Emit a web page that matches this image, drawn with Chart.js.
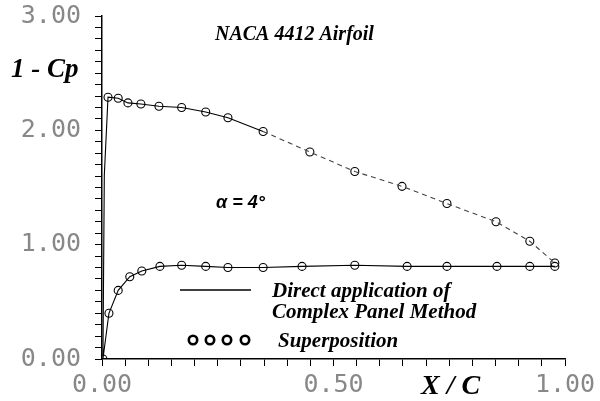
<!DOCTYPE html>
<html>
<head>
<meta charset="utf-8">
<script src="https://cdn.jsdelivr.net/npm/chart.js@4"></script>
<style>
  html, body { margin: 0; padding: 0; background: #fff; }
  #wrap { width: 600px; height: 401px; }
</style>
</head>
<body>
<div id="wrap"><canvas id="cpChart"></canvas></div>
<script>
// upper surface (leading edge -> trailing edge)
const xcUpper = [0.000, 0.005, 0.013, 0.035, 0.056, 0.084, 0.123, 0.172, 0.224, 0.272, 0.348, 0.449, 0.546, 0.648, 0.745, 0.851, 0.924, 0.978];
const cpUpper = [0.00, 1.61, 2.29, 2.28, 2.24, 2.23, 2.21, 2.20, 2.16, 2.11, 1.99, 1.81, 1.64, 1.51, 1.36, 1.20, 1.03, 0.84];
// lower surface (leading edge -> trailing edge)
const xcLower = [0.002, 0.015, 0.035, 0.060, 0.086, 0.125, 0.172, 0.224, 0.272, 0.348, 0.432, 0.546, 0.659, 0.745, 0.853, 0.924, 0.978];
const cpLower = [0.00, 0.40, 0.60, 0.72, 0.77, 0.81, 0.82, 0.81, 0.80, 0.80, 0.81, 0.82, 0.81, 0.81, 0.81, 0.81, 0.81];
// superposition markers (index where the circles start on each surface)
const circleUpperFrom = 2;
const circleLowerFrom = 0;

const xTickLabels = { 0: '0.00', 0.5: '0.50', 1: '1.00' };
const yTickLabels = { 0: '0.00', 1: '1.00', 2: '2.00', 3: '3.00' };

// line goes around the airfoil: lower TE -> LE -> upper TE
const lineData = [];
for (let i = xcLower.length - 1; i >= 0; i--) lineData.push({ x: xcLower[i], y: cpLower[i] });
for (let i = 0; i < xcUpper.length; i++) lineData.push({ x: xcUpper[i], y: cpUpper[i] });
const nLower = xcLower.length;

const circleData = [];
for (let i = circleUpperFrom; i < xcUpper.length; i++) circleData.push({ x: xcUpper[i], y: cpUpper[i] });
for (let i = circleLowerFrom; i < xcLower.length; i++) circleData.push({ x: xcLower[i], y: cpLower[i] });

function pickLabel(table, v) {
    for (const k in table) {
        if (Math.abs(v - parseFloat(k)) < 1e-6) return table[k];
    }
    return '';
}

const textPlugin = {
    id: 'texts',
    afterDraw(chart) {
        const ctx = chart.ctx;
        ctx.save();
        ctx.fillStyle = '#000';
        ctx.textBaseline = 'alphabetic';
        ctx.textAlign = 'left';

        ctx.font = 'italic bold 20px "Liberation Serif"';
        ctx.fillText('NACA 4412 Airfoil', 215, 40);

        ctx.font = 'italic bold 27px "Liberation Serif"';
        ctx.fillText('1 - Cp', 11, 77);

        ctx.font = 'italic bold 18px "Liberation Sans"';
        ctx.fillText('\u03B1 = 4\u00B0', 216, 208);

        ctx.font = 'italic bold 21px "Liberation Serif"';
        ctx.fillText('Direct application of', 272, 297);
        ctx.fillText('Complex Panel Method', 272, 318);
        ctx.fillText('Superposition', 278, 347);

        ctx.font = 'italic bold 28px "Liberation Serif"';
        ctx.fillText('X / C', 421, 394);

        // legend samples
        ctx.strokeStyle = '#000';
        ctx.lineWidth = 1.3;
        ctx.beginPath();
        ctx.moveTo(180, 290);
        ctx.lineTo(251, 290);
        ctx.stroke();
        ctx.lineWidth = 2.6;
        [193, 210, 227, 245].forEach(function(cx) {
            ctx.beginPath();
            ctx.arc(cx, 340, 4.2, 0, Math.PI * 2);
            ctx.stroke();
        });
        ctx.restore();
    }
};

const ctx = document.getElementById('cpChart').getContext('2d');
new Chart(ctx, {
    type: 'scatter',
    data: {
        datasets: [
            {
                label: 'Direct application of Complex Panel Method',
                data: lineData,
                showLine: true,
                borderColor: '#000',
                borderWidth: 1.1,
                pointRadius: 0,
                segment: {
                    borderDash: c => (c.p0DataIndex >= nLower && c.p0.parsed.x > 0.3) ? [5, 4] : undefined,
                    borderColor: c => (c.p0DataIndex >= nLower && c.p0.parsed.x > 0.3) ? '#444' : undefined
                }
            },
            {
                label: 'Superposition',
                data: circleData,
                showLine: false,
                pointRadius: 4,
                pointBorderWidth: 1.1,
                pointBorderColor: '#000',
                pointBackgroundColor: 'rgba(0,0,0,0)'
            }
        ]
    },
    plugins: [textPlugin],
    options: {
        responsive: true,
        maintainAspectRatio: false,
        animation: false,
        layout: { padding: { left: 0, right: 35, top: 16, bottom: 0 } },
        plugins: {
            legend: { display: false },
            tooltip: { enabled: false }
        },
        scales: {
            x: {
                type: 'linear',
                min: 0,
                max: 1,
                afterFit: s => { s.height = 42; s.paddingLeft = 0; s.paddingRight = 0; },
                ticks: {
                    stepSize: 0.05,
                    autoSkip: false,
                    maxRotation: 0,
                    padding: 4,
                    color: '#888',
                    font: { family: 'DejaVu Sans Mono', size: 25 },
                    callback: v => pickLabel(xTickLabels, v)
                },
                grid: { drawOnChartArea: false, drawTicks: true, tickLength: 7, color: '#000', lineWidth: 1 },
                border: { color: '#000', width: 1.5 }
            },
            y: {
                min: 0,
                max: 3,
                afterFit: s => { s.width = 102; s.paddingTop = 0; s.paddingBottom = 0; },
                ticks: {
                    stepSize: 0.1,
                    autoSkip: false,
                    padding: 14,
                    color: '#888',
                    font: { family: 'DejaVu Sans Mono', size: 25 },
                    callback: v => pickLabel(yTickLabels, v)
                },
                grid: { drawOnChartArea: false, drawTicks: true, tickLength: 7, color: '#000', lineWidth: 1 },
                border: { color: '#000', width: 1.5 }
            }
        }
    }
});
</script>
</body>
</html>
